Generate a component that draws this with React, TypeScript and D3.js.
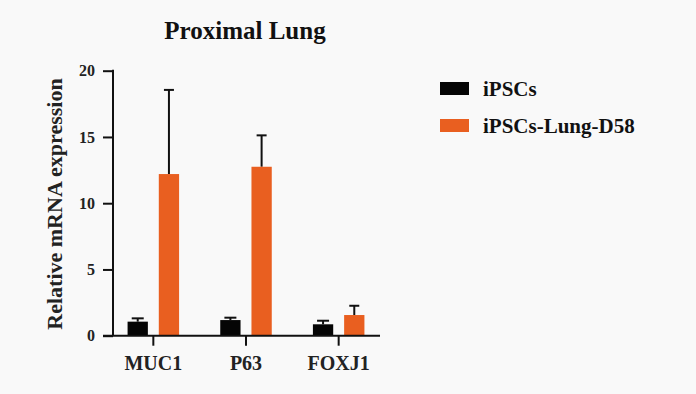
import React, { useEffect, useRef } from 'react';
import * as d3 from 'd3';

const categories = ['MUC1', 'P63', 'FOXJ1'];
const seriesNames = ['iPSCs', 'iPSCs-Lung-D58'];
const ipscMean = [1.06, 1.18, 0.86];
const ipscErr = [0.25, 0.18, 0.27];
const lungMean = [12.2, 12.75, 1.56];
const lungErr = [6.35, 2.37, 0.7];
const yTicks = [0, 5, 10, 15, 20];
const colors = ['#050505', '#E95F20'];

const W = 696;
const H = 394;

const App: React.FC = () => {
  const ref = useRef<SVGSVGElement | null>(null);

  useEffect(() => {
    const svg = d3.select(ref.current);
    svg.selectAll('*').remove();
    const font = '"Liberation Serif", "Times New Roman", serif';

    svg.append('rect').attr('width', W).attr('height', H).attr('fill', '#f9f9f9');

    const x = d3.scaleBand().domain(categories).range([107, 385]);
    const y = d3.scaleLinear().domain([0, 20]).range([335.7, 70.7]);
    const sub = d3.scaleBand().domain(seriesNames).range([-29.5, 29.5]).paddingInner(0.35).paddingOuter(0.12);

    const rows = categories.map((c, i) => [
      { cat: c, s: seriesNames[0], v: ipscMean[i], e: ipscErr[i], col: colors[0], cap: 12 },
      { cat: c, s: seriesNames[1], v: lungMean[i], e: lungErr[i], col: colors[1], cap: 10 },
    ]).flat();

    const g = svg.append('g');
    // error bars (drawn first, bars cover lower part)
    rows.forEach((d) => {
      const cx = x(d.cat)! + x.bandwidth() / 2 + sub(d.s)! + sub.bandwidth() / 2;
      g.append('line').attr('x1', cx).attr('x2', cx).attr('y1', y(d.v)).attr('y2', y(d.v + d.e))
        .attr('stroke', '#111').attr('stroke-width', 2);
      g.append('line').attr('x1', cx - d.cap / 2).attr('x2', cx + d.cap / 2)
        .attr('y1', y(d.v + d.e)).attr('y2', y(d.v + d.e)).attr('stroke', '#111').attr('stroke-width', 2);
    });
    g.selectAll('rect.bar').data(rows).enter().append('rect')
      .attr('x', (d) => x(d.cat)! + x.bandwidth() / 2 + sub(d.s)!)
      .attr('width', sub.bandwidth())
      .attr('y', (d) => y(d.v))
      .attr('height', (d) => y(0) - y(d.v))
      .attr('fill', (d) => d.col);

    // y axis
    const ya = svg.append('g').attr('transform', 'translate(113,0)')
      .call(d3.axisLeft(y).tickValues(yTicks).tickSize(10).tickSizeOuter(0).tickPadding(8));
    ya.select('.domain').remove();
    ya.selectAll('line').attr('stroke', '#111').attr('stroke-width', 2);
    ya.selectAll('text').attr('font-family', font).attr('font-weight', 'bold').attr('font-size', 16).attr('fill', '#222');
    svg.append('line').attr('x1', 113).attr('x2', 113).attr('y1', y(20) - 1).attr('y2', y(0))
      .attr('stroke', '#111').attr('stroke-width', 2);

    // x axis
    const xa = svg.append('g').attr('transform', `translate(0,${y(0)})`)
      .call(d3.axisBottom(x).tickSize(10).tickSizeOuter(0).tickPadding(10));
    xa.select('.domain').remove();
    xa.selectAll('line').attr('stroke', '#111').attr('stroke-width', 2);
    xa.selectAll('text').attr('font-family', font).attr('font-weight', 'bold').attr('font-size', 20).attr('fill', '#222');
    svg.append('line').attr('x1', 103).attr('x2', 380).attr('y1', y(0)).attr('y2', y(0))
      .attr('stroke', '#111').attr('stroke-width', 2);

    // title
    svg.append('text').attr('x', 245).attr('y', 39).attr('text-anchor', 'middle')
      .attr('font-family', font).attr('font-weight', 'bold').attr('font-size', 25).attr('fill', '#111')
      .text('Proximal Lung');

    // y label
    svg.append('text').attr('transform', 'translate(62,204) rotate(-90)').attr('text-anchor', 'middle')
      .attr('font-family', font).attr('font-weight', 'bold').attr('font-size', 22).attr('fill', '#222')
      .text('Relative mRNA expression');

    // legend
    const lg = svg.append('g').attr('transform', 'translate(440,82)');
    seriesNames.forEach((s, i) => {
      lg.append('rect').attr('x', 0).attr('y', i * 37).attr('width', 29).attr('height', 13).attr('fill', colors[i]);
      lg.append('text').attr('x', 43).attr('y', i * 37 + 14).attr('font-family', font).attr('font-weight', 'bold')
        .attr('font-size', 21).attr('fill', '#111').text(s);
    });
  }, []);

  return (
    <svg ref={ref} width={W} height={H} style={{ position: 'absolute', left: 0, top: 0, display: 'block' }} />
  );
};

export default App;
